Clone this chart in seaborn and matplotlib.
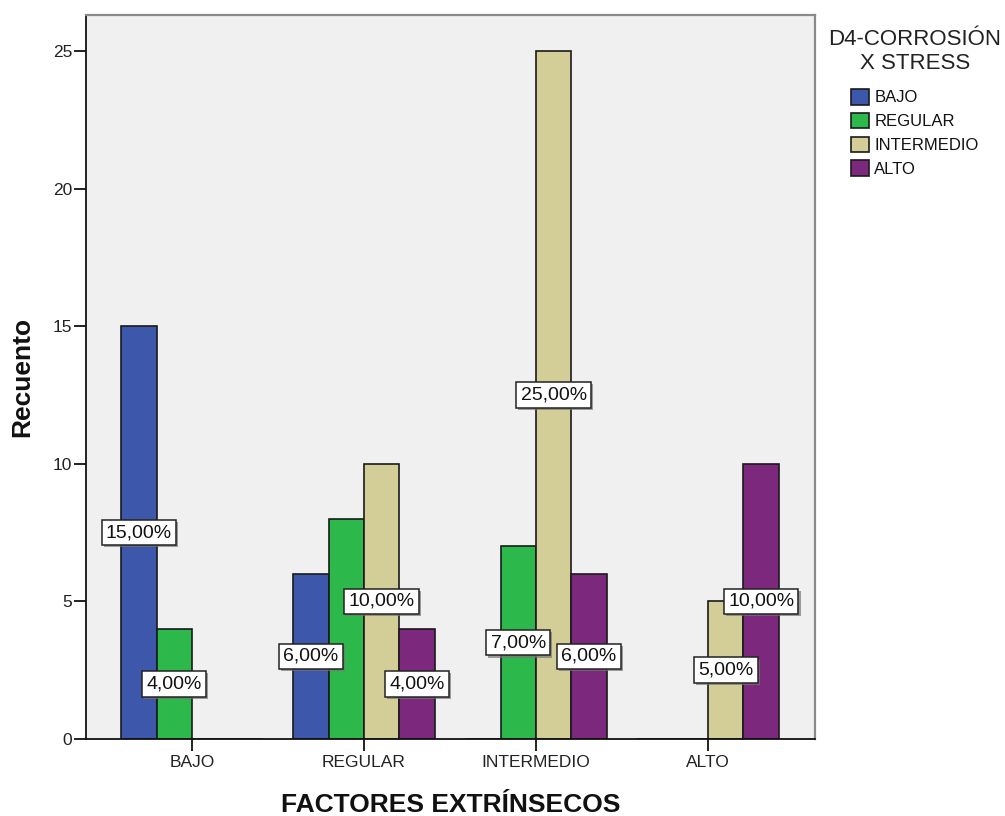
import matplotlib
matplotlib.use("Agg")
import matplotlib.pyplot as plt
import matplotlib.patheffects as pe
import seaborn as sns
import pandas as pd

# Categories on the x axis (extrinsic factor level)
categories = ["BAJO", "REGULAR", "INTERMEDIO", "ALTO"]
# Hue levels (corrosion-under-stress level)
series = ["BAJO", "REGULAR", "INTERMEDIO", "ALTO"]

# Counts per hue level, in category order
bajo = [15, 6, 0, 0]
regular = [4, 8, 7, 0]
intermedio = [0, 10, 25, 5]
alto = [0, 4, 6, 10]

colors = ["#3D57AB", "#2DB84B", "#D3CE98", "#7B287D"]

# Labels that are left out because they would overlap their neighbours
hidden_labels = [("REGULAR", "REGULAR")]

rows = []
for name, vals in zip(series, [bajo, regular, intermedio, alto]):
    for cat, v in zip(categories, vals):
        rows.append({"factor": cat, "nivel": name, "recuento": v})
df = pd.DataFrame(rows)
total = df["recuento"].sum()

plt.rcParams["font.family"] = ["Liberation Sans", "DejaVu Sans"]

fig = plt.figure(figsize=(10.05, 8.16), dpi=100)
W, H = 1005, 816
ax = fig.add_axes([86 / W, 1 - 739 / H, 729 / W, 724.5 / H])
ax.set_facecolor("#F0F0F0")

sns.barplot(data=df, x="factor", y="recuento", hue="nivel",
            order=categories, hue_order=series, palette=colors,
            width=0.823, gap=0, edgecolor="#1A1A1A", linewidth=1.2,
            saturation=1, errorbar=None, ax=ax, legend=True)

ax.set_xlim(-0.616, 3.622)
ax.set_ylim(0, 26.33)
ax.set_yticks([0, 5, 10, 15, 20, 25])

# Percentage labels in white boxes at half the bar height
for container, name in zip(ax.containers, series):
    for bar, cat in zip(container.patches, categories):
        h = bar.get_height()
        if h <= 0 or (cat, name) in hidden_labels:
            continue
        pct = h / total * 100
        txt = f"{pct:.2f}".replace(".", ",") + "%"
        t = ax.text(bar.get_x() + bar.get_width() / 2, h / 2, txt,
                    ha="center", va="center", fontsize=14, color="#111111",
                    zorder=5,
                    bbox=dict(boxstyle="square,pad=0.22", facecolor="white",
                              edgecolor="#222222", linewidth=1.1))
        t.get_bbox_patch().set_path_effects([
            pe.SimplePatchShadow(offset=(1.5, -1.5), shadow_rgbFace="#777777", alpha=0.7),
            pe.Normal()])

# Axis styling
for side in ["left", "bottom"]:
    ax.spines[side].set_color("#111111")
    ax.spines[side].set_linewidth(1.3)
for side in ["top", "right"]:
    ax.spines[side].set_color("#8A8A8A")
    ax.spines[side].set_linewidth(1.6)

ax.tick_params(axis="both", direction="out", length=8.5, width=1.3,
               color="#111111", labelsize=12.5, labelcolor="#222222")
ax.tick_params(axis="y", pad=1.5)
ax.tick_params(axis="x", pad=3)

ax.set_xlabel("FACTORES EXTRÍNSECOS", fontsize=19, fontweight="bold", color="#111111")
ax.xaxis.set_label_coords(0.5, (739 - 805) / 724.5)
ax.xaxis.label.set_va("center")
ax.set_ylabel("Recuento", fontsize=19, fontweight="bold", color="#111111")
ax.yaxis.set_label_coords((22 - 86) / 729, 0.5)
ax.yaxis.label.set_va("center")

handles, labels = ax.get_legend_handles_labels()
leg = ax.legend(handles, labels, title="D4-CORROSIÓN\nX STRESS",
                loc="upper center", bbox_to_anchor=(915 / W, 1 - 29 / H),
                bbox_transform=fig.transFigure, frameon=False,
                fontsize=12, title_fontsize=16, alignment="center",
                handlelength=1.08, handleheight=1.08, handletextpad=0.3,
                labelspacing=0.44, borderpad=0, borderaxespad=0)
# gap between the legend title and its entries
leg._legend_box.sep = 10.5
leg.get_title().set_color("#222222")
leg.get_title().set_multialignment("center")
for txt in leg.get_texts():
    txt.set_color("#111111")

fig.savefig("out.png", dpi=100)
